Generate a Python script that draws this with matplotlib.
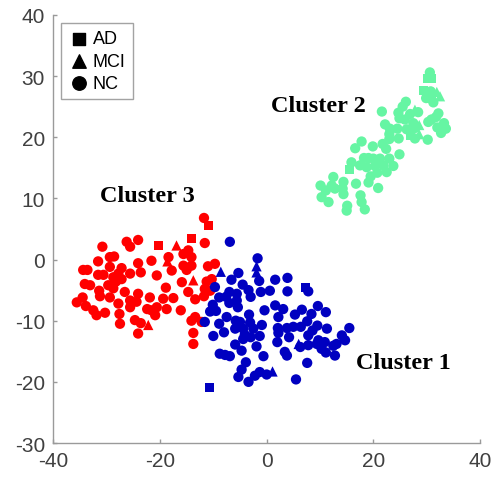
import numpy as np
import matplotlib
matplotlib.use("Agg")
import matplotlib.pyplot as plt

plt.rcParams["axes.unicode_minus"] = False

# cluster 1 (blue)
c1_x = [-6.9, -1.7, -1.9, -1.9, -8.6, -5.3, -6.6, -1.4, 1.6, 3.9, 7.2, 7.8, 3.9, 0.6, -1.1,
        -4.5, -3.4, -3.0, -5.6, -7.0, -7.6, -9.7, -8.9, -10.1, -10.6, -9.5, -11.6, -8.9, -7.5,
        -7.0, -5.6, -5.4, -5.8, -5.0, -3.3, -0.4, 1.6, 3.1, 2.2, -0.9, -2.5, -1.3, -3.0, -4.4,
        -4.1, -5.9, -8.0, -10.0, -8.8, -7.8, -6.9, -4.7, -1.9, -0.6, -3.9, -4.7, -5.3, -3.4,
        -2.2, -1.3, 0.0, 1.1, 5.5, -10.8, 2.1, 3.8, 4.2, 2.0, 3.4, 3.8, 2.2, 5.3, 6.6, 7.6,
        6.4, 5.0, 6.0, 6.3, 7.8, 7.6, 8.4, 9.6, 11.1, 9.5, 8.6, 11.3, 9.7, 10.9, 10.3, 11.1,
        12.8, 13.1, 14.1, 14.7, 15.5, 7.8, -3.1, -5.9, -4.4, 12.5, 9.4]
c1_y = [2.9, 0.2, -1.1, -2.1, -2.0, -2.2, -3.3, -3.5, -3.3, -3.0, -4.5, -5.2, -5.2, -5.1, -5.3,
        -4.1, -5.0, -6.1, -5.6, -5.3, -6.1, -4.5, -6.2, -7.4, -8.5, -8.4, -10.2, -10.5, -9.4,
        -7.1, -6.7, -7.8, -10.0, -10.2, -9.0, -8.3, -7.5, -8.1, -9.4, -10.7, -11.3, -12.5, -12.7,
        -13.0, -12.3, -13.9, -11.9, -12.5, -15.4, -15.6, -15.8, -14.9, -14.2, -15.8, -16.8,
        -18.0, -19.2, -20.0, -19.0, -18.4, -18.8, -18.3, -19.6, -20.9, -11.2, -11.2, -12.7,
        -13.5, -15.1, -15.7, -12.0, -9.0, -8.2, -10.1, -11.0, -11.0, -13.8, -14.3, -14.0,
        -16.9, -8.9, -7.6, -8.6, -10.8, -11.6, -11.3, -13.2, -13.5, -14.6, -15.2, -15.7,
        -13.8, -12.4, -13.2, -11.2, -12.4, -10.3, -11.3, -11.3, -14.1, -13.8]
c1_g = ["N", "N", "M", "M", "M", "N", "N", "N", "N", "N", "A", "N", "N", "N", "N",
        "N", "N", "N", "N", "N", "N", "N", "N", "N", "N", "N", "N", "N", "N",
        "N", "N", "N", "N", "N", "N", "N", "N", "N", "N", "N", "N", "N", "N", "N",
        "N", "N", "N", "N", "N", "N", "N", "N", "N", "N", "N", "N", "N", "N",
        "N", "N", "N", "M", "N", "A", "N", "N", "N", "N", "N", "N", "N", "N", "N", "N",
        "N", "N", "M", "N", "N", "N", "N", "N", "N", "N", "N", "N", "N", "N", "N", "N",
        "N", "N", "N", "N", "N", "N", "N", "N", "N", "N", "N"]

# cluster 2 (green)
c2_x = [30.6, 30.1, 30.9, 29.5, 30.75, 31.9, 32.5, 29.9, 30.9, 26.1, 25.5, 27.8, 28.4, 26.9,
        24.7, 21.6, 32.2, 31.75, 33.25, 30.9, 30.3, 24.9, 25.9, 27.5, 28.6, 27.8, 26.25, 32.0,
        33.6, 32.7, 22.2, 24.5, 23.0, 24.75, 26.9, 27.8, 28.6, 30.2, 23.0, 21.75, 22.4, 19.9,
        17.8, 16.6, 18.25, 19.1, 20.0, 21.25, 23.0, 24.9, 15.9, 15.6, 17.5, 18.75, 20.3, 21.9,
        23.75, 22.5, 20.75, 19.5, 19.1, 20.9, 16.75, 12.5, 14.4, 10.1, 11.1, 12.8, 14.25,
        14.4, 12.2, 10.3, 11.6, 15.1, 15.0, 17.6, 17.8, 18.4, 23.1, 31.25]
c2_y = [30.6, 29.6, 29.6, 27.6, 27.5, 27.4, 26.7, 26.4, 26.3, 25.8, 25.0, 24.5, 24.1, 23.8,
        24.0, 24.2, 23.9, 23.3, 22.3, 22.9, 22.5, 23.1, 22.9, 22.3, 22.0, 21.5, 21.3, 21.6,
        21.4, 20.7, 22.1, 21.4, 20.5, 19.8, 20.3, 19.8, 20.5, 19.6, 19.7, 18.9, 18.1, 18.5,
        19.3, 18.2, 16.6, 16.6, 16.5, 16.5, 16.5, 17.2, 15.9, 14.8, 15.4, 15.1, 15.3, 15.4,
        15.3, 14.3, 14.2, 13.6, 12.6, 11.7, 12.4, 13.5, 12.7, 12.1, 11.3, 11.6, 11.6,
        10.7, 12.1, 10.2, 9.4, 8.8, 8.0, 10.5, 9.4, 8.2, 21.4, 25.7]
c2_g = ["N", "A", "A", "A", "N", "M", "M", "N", "A", "N", "N", "M", "N", "N",
        "N", "N", "N", "N", "N", "N", "N", "N", "N", "N", "M", "N", "N", "N",
        "N", "N", "N", "N", "N", "N", "A", "N", "M", "N", "N", "N", "N", "N",
        "N", "N", "N", "N", "N", "N", "N", "N", "N", "A", "N", "N", "N", "N",
        "N", "N", "N", "N", "N", "N", "N", "N", "N", "N", "N", "N", "N",
        "N", "N", "N", "N", "N", "N", "N", "N", "N", "N", "N"]

# cluster 3 (red)
c3_x = [-11.75, -10.9, -24.1, -26.25, -25.6, -30.8, -20.25, -16.9, -14.0, -11.6, -14.7, -15.6,
        -14.1, -18.4, -18.6, -21.6, -24.1, -29.4, -28.6, -31.6, -34.4, -33.6, -29.4, -27.2,
        -27.8, -25.6, -23.6, -20.6, -17.8, -15.6, -15.0, -14.1, -11.0, -9.7, -31.6, -30.6,
        -28.75, -28.25, -34.1, -33.1, -29.7, -28.75, -27.2, -31.4, -31.25, -29.4, -26.6, -24.1,
        -25.6, -24.4, -21.9, -18.9, -19.4, -17.5, -15.9, -13.75, -14.7, -13.4, -11.25, -10.3,
        -11.6, -10.6, -11.75, -35.6, -34.5, -33.9, -32.5, -31.9, -30.3, -27.8, -25.6, -27.6,
        -27.5, -24.7, -23.6, -22.2, -24.1, -22.4, -20.9, -20.6, -21.6, -18.75, -16.1, -13.4,
        -14.1, -12.2, -13.75, -13.75]
c3_y = [6.8, 5.6, 3.2, 2.9, 2.1, 2.1, 2.3, 2.3, 3.4, 2.7, 1.5, 0.9,
        0.4, 0.4, -0.3, -0.2, -0.6, 0.4, 0.5, -0.3, -1.7, -1.7, -1.2, -1.4,
        -2.3, -2.3, -2.1, -2.6, -1.8, -1.0, -1.7, -1.0, -1.1, -0.7, -2.5, -2.5,
        -2.9, -3.6, -4.0, -4.2, -4.2, -4.7, -3.2, -5.1, -6.0, -6.2, -5.3, -5.6,
        -6.7, -6.9, -6.2, -4.6, -6.4, -6.3, -3.7, -3.4, -5.3, -6.5, -3.6, -3.2,
        -4.8, -5.1, -6.0, -7.0, -6.2, -7.6, -8.3, -9.1, -8.7, -7.2, -7.8, -8.9,
        -10.5, -9.9, -10.4, -10.7, -12.1, -8.1, -9.1, -7.8, -8.3, -8.1, -8.3, -9.4,
        -10.0, -10.2, -12.0, -13.8]
c3_g = ["N", "A", "N", "N", "N", "N", "A", "M", "A", "N", "N", "N",
        "N", "N", "M", "N", "N", "N", "N", "N", "N", "N", "N", "N",
        "N", "N", "N", "N", "N", "N", "N", "N", "N", "N", "N", "N",
        "N", "N", "N", "N", "N", "N", "N", "N", "N", "N", "N", "N",
        "N", "N", "N", "N", "N", "N", "N", "M", "N", "N", "N", "N",
        "N", "N", "N", "N", "N", "N", "N", "N", "N", "N", "N", "N",
        "N", "N", "N", "M", "N", "N", "N", "N", "N", "N", "N", "N",
        "N", "N", "N", "N"]

groups = ["AD", "MCI", "NC"]
markers = {"A": "s", "M": "^", "N": "o"}
sizes = {"A": 42, "M": 55, "N": 55}

clusters = [
    (c3_x, c3_y, c3_g, "#ff0000"),
    (c1_x, c1_y, c1_g, "#0000c0"),
    (c2_x, c2_y, c2_g, "#66f5a3"),
]

fig = plt.figure(figsize=(4.95, 4.81), dpi=100)
ax = fig.add_axes([0.1077, 0.0769, 0.862, 0.890])

for xs, ys, gs, col in clusters:
    xs = np.array(xs)
    ys = np.array(ys)
    gs = np.array(gs)
    for g in ["N", "A", "M"]:
        m = gs == g
        ax.scatter(xs[m], ys[m], marker=markers[g], s=sizes[g], color=col,
                   edgecolors="none", zorder=3)

# legend with black markers
handles = []
for code, name in zip(["A", "M", "N"], groups):
    h = ax.scatter([], [], marker=markers[code], s=sizes[code] * 1.7, color="black", label=name)
    handles.append(h)
leg = ax.legend(handles=handles, loc="upper left", bbox_to_anchor=(0.018, 0.981),
                borderaxespad=0, fancybox=False, frameon=True, handletextpad=0.15,
                handlelength=1.2, labelspacing=0.3, borderpad=0.4,
                prop={"family": "Liberation Sans", "size": 13})
leg.get_frame().set_edgecolor("#8c8c8c")
leg.get_frame().set_linewidth(1.0)

ax.text(-31.2, 10.4, "Cluster 3", fontsize=17.5, fontweight="bold", family="Liberation Serif",
        ha="left", va="center")
ax.text(0.8, 25.2, "Cluster 2", fontsize=17.5, fontweight="bold", family="Liberation Serif",
        ha="left", va="center")
ax.text(16.8, -16.8, "Cluster 1", fontsize=17.5, fontweight="bold", family="Liberation Serif",
        ha="left", va="center")

ax.set_xlim(-40, 40)
ax.set_ylim(-30, 40)
ax.set_xticks([-40, -20, 0, 20, 40])
ax.set_yticks([-30, -20, -10, 0, 10, 20, 30, 40])
ax.spines["top"].set_visible(False)
ax.spines["right"].set_visible(False)
for s in ["left", "bottom"]:
    ax.spines[s].set_color("#9a9a9a")
    ax.spines[s].set_linewidth(1.0)
ax.tick_params(direction="in", length=3, width=1, color="#9a9a9a", labelcolor="#404040",
               labelsize=15, pad=6)
for lab in ax.get_xticklabels() + ax.get_yticklabels():
    lab.set_family("Liberation Sans")

fig.savefig("out.png", dpi=100)
